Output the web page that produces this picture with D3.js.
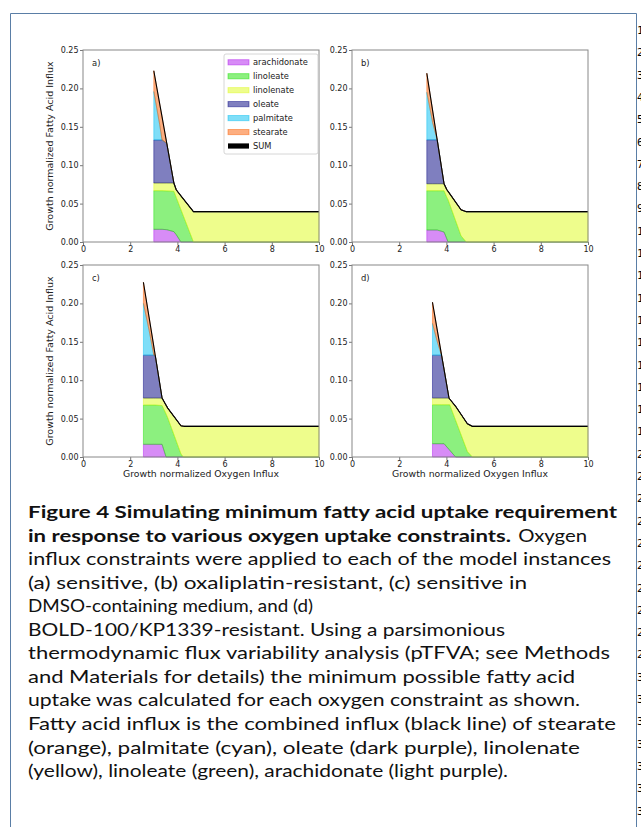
<!DOCTYPE html>
<html>
<head>
<meta charset="utf-8">
<script src="https://cdn.jsdelivr.net/npm/d3@7"></script>
<style>
  body { margin: 0; background: #fff; }
  svg { display: block; font-family: "DejaVu Sans", sans-serif; }
</style>
</head>
<body>
<script>
// stacking order, bottom to top
const acids = ["arachidonate", "linoleate", "linolenate", "oleate", "palmitate", "stearate"];
const acidColors = ["#af19ed", "#19e100", "#ddfb19", "#000080", "#00bef1", "#fb5d01"];
const legendNames = ["arachidonate", "linoleate", "linolenate", "oleate", "palmitate", "stearate", "SUM"];
const panelLabels = ["a)", "b)", "c)", "d)"];
const xTicks = [0, 2, 4, 6, 8, 10];
const yTicks = [0, 0.05, 0.1, 0.15, 0.2, 0.25];

// a) sensitive
const xA = [3.0, 3.25, 3.35, 3.55, 3.85, 3.95, 4.15, 4.68, 10];
const arachA = [0.0165, 0.0165, 0.0165, 0.016, 0.0135, 0.0096, 0, 0, 0];
const linoleA = [0.0503, 0.0503, 0.0503, 0.0505, 0.0525, 0.0484, 0.042, 0, 0];
const linolenA = [0.01, 0.01, 0.01, 0.0103, 0.0108, 0.01, 0.018, 0.0395, 0.0395];
const oleA = [0.056, 0.056, 0.056, 0.0516, 0, 0, 0, 0, 0];
const palmA = [0.0632, 0.02, 0, 0, 0, 0, 0, 0, 0];
const stearA = [0.027, 0.027, 0.03, 0, 0, 0, 0, 0, 0];

// b) oxaliplatin-resistant
const xB = [3.17, 3.42, 3.61, 3.9, 4.02, 4.07, 4.62, 4.84, 10];
const arachB = [0.0156, 0.0156, 0.0156, 0.013, 0.004, 0, 0, 0, 0];
const linoleB = [0.0511, 0.0511, 0.0511, 0.0537, 0.054, 0.055, 0.008, 0, 0];
const linolenB = [0.0091, 0.0091, 0.0091, 0.0091, 0.01, 0.011, 0.034, 0.0395, 0.0395];
const oleB = [0.0572, 0.0572, 0.0572, 0, 0, 0, 0, 0, 0];
const palmB = [0.062, 0.022, 0, 0, 0, 0, 0, 0, 0];
const stearB = [0.0247, 0.0155, 0, 0, 0, 0, 0, 0, 0];

// c) sensitive in DMSO
const xC = [2.56, 2.8, 3.0, 3.06, 3.35, 3.52, 3.59, 4.15, 4.25, 4.3, 10];
const arachC = [0.0165, 0.0165, 0.0165, 0.0165, 0.0165, 0, 0, 0, 0, 0, 0];
const linoleC = [0.0511, 0.0511, 0.0511, 0.0511, 0.0505, 0.056, 0.051, 0.004, 0, 0, 0];
const linolenC = [0.0091, 0.0091, 0.0091, 0.0091, 0.0097, 0.0115, 0.0127, 0.0367, 0.0401, 0.0399, 0.0399];
const oleC = [0.0559, 0.0559, 0.0559, 0.0558, 0, 0, 0, 0, 0, 0, 0];
const palmC = [0.0674, 0.0324, 0, 0, 0, 0, 0, 0, 0, 0, 0];
const stearC = [0.0275, 0.017, 0.0114, 0, 0, 0, 0, 0, 0, 0, 0];

// d) BOLD-100/KP1339-resistant
const xD = [3.41, 3.6, 3.79, 3.9, 4.11, 4.14, 4.39, 4.89, 5.1, 10];
const arachD = [0.0173, 0.0173, 0.0173, 0.0173, 0.0099, 0.0088, 0, 0, 0, 0];
const linoleD = [0.0507, 0.0507, 0.0507, 0.0507, 0.0581, 0.0592, 0.0477, 0.007, 0, 0];
const linolenD = [0.0087, 0.0087, 0.0087, 0.0087, 0.0087, 0.0075, 0.0183, 0.0363, 0.0399, 0.0399];
const oleD = [0.0559, 0.0559, 0.0559, 0.0374, 0, 0, 0, 0, 0, 0];
const palmD = [0.0414, 0.019, 0, 0, 0, 0, 0, 0, 0, 0];
const stearD = [0.0275, 0.016, 0.0011, 0, 0, 0, 0, 0, 0, 0];

const captionLines = [
  [["Figure 4  Simulating minimum fatty acid uptake requirement", true]],
  [["in response to various oxygen uptake constraints.", true], [" Oxygen", false]],
  [["influx constraints were applied to each of the model instances", false]],
  [["(a) sensitive, (b) oxaliplatin-resistant, (c) sensitive in", false]],
  [["DMSO-containing medium, and (d)", false]],
  [["BOLD-100/KP1339-resistant. Using a parsimonious", false]],
  [["thermodynamic flux variability analysis (pTFVA; see Methods", false]],
  [["and Materials for details) the minimum possible fatty acid", false]],
  [["uptake was calculated for each oxygen constraint as shown.", false]],
  [["Fatty acid influx is the combined influx (black line) of stearate", false]],
  [["(orange), palmitate (cyan), oleate (dark purple), linolenate", false]],
  [["(yellow), linoleate (green), arachidonate (light purple).", false]]
];
// measured right ends of each caption line in the reference
const captionEnds = [617, 587, 611, 527, 313, 505, 610, 575, 580, 616, 580, 508];

const panels = [
  { x: xA, series: [arachA, linoleA, linolenA, oleA, palmA, stearA] },
  { x: xB, series: [arachB, linoleB, linolenB, oleB, palmB, stearB] },
  { x: xC, series: [arachC, linoleC, linolenC, oleC, palmC, stearC] },
  { x: xD, series: [arachD, linoleD, linolenD, oleD, palmD, stearD] }
];

const W = 641, H = 827;
const svg = d3.select("body").append("svg").attr("width", W).attr("height", H);
svg.append("rect").attr("width", W).attr("height", H).attr("fill", "#fff");

// page frame
const frameColor = "#5a7ea6";
svg.append("path")
  .attr("d", `M10.5,${H} V13.5 H636.5 V${H}`)
  .attr("fill", "none").attr("stroke", frameColor).attr("stroke-width", 1);

// line numbers on the right margin (mostly cut off by the page edge)
for (let n = 1; n <= 36; n++) {
  svg.append("text")
    .attr("x", 637).attr("y", 34 + (n - 1) * 22.3)
    .style("font-family", "'DejaVu Sans Mono', monospace")
    .style("font-size", "11px").attr("fill", "#000")
    .text(n);
}

const pw = 236, ph = 192;
const lefts = [83, 352, 83, 352];
const tops = [50, 50, 265, 265];

const stack = d3.stack().keys(acids);

panels.forEach((p, i) => {
  const g = svg.append("g").attr("transform", `translate(${lefts[i]},${tops[i]})`);
  const x = d3.scaleLinear().domain([0, 10]).range([0, pw]);
  const y = d3.scaleLinear().domain([0, 0.25]).range([ph, 0]);

  const rows = p.x.map((xv, k) => {
    const r = { x: xv };
    acids.forEach((a, j) => (r[a] = p.series[j][k]));
    return r;
  });
  const layers = stack(rows);

  const area = d3.area()
    .x((d) => x(d.data.x))
    .y0((d) => y(d[0]))
    .y1((d) => y(d[1]));

  g.selectAll("path.layer")
    .data(layers)
    .enter()
    .append("path")
    .attr("class", "layer")
    .attr("d", area)
    .attr("fill", (d, j) => acidColors[j])
    .attr("fill-opacity", 0.5)
    .attr("stroke", (d, j) => acidColors[j])
    .attr("stroke-opacity", 0.5)
    .attr("stroke-width", 0.9);

  const sumLine = d3.line()
    .x((d) => x(d.x))
    .y((d) => y(d3.sum(acids, (a) => d[a])));
  g.append("path")
    .attr("d", sumLine(rows))
    .attr("fill", "none")
    .attr("stroke", "#000")
    .attr("stroke-width", 1.1);

  // axes
  const xAxis = d3.axisBottom(x).tickValues(xTicks).tickSize(3).tickPadding(1.5);
  const yAxis = d3.axisLeft(y).tickValues(yTicks).tickSize(3).tickPadding(1.5)
    .tickFormat(d3.format(".2f"));
  const gx = g.append("g").attr("transform", `translate(0,${ph})`).call(xAxis);
  const gy = g.append("g").call(yAxis);
  [gx, gy].forEach((ax) => {
    ax.select(".domain").remove();
    ax.selectAll("line").attr("stroke", "#777");
    ax.selectAll("text").attr("fill", "#222").style("font-size", "8px")
      .style("font-family", "'DejaVu Sans', sans-serif");
  });

  g.append("rect")
    .attr("width", pw).attr("height", ph)
    .attr("fill", "none").attr("stroke", "#888").attr("stroke-width", 1);

  g.append("text")
    .attr("x", 9).attr("y", 16)
    .style("font-size", "8.4px").attr("fill", "#222")
    .text(panelLabels[i]);

  if (i % 2 === 0) {
    g.append("text")
      .attr("transform", `translate(-30,${ph / 2}) rotate(-90)`)
      .attr("text-anchor", "middle")
      .style("font-size", "9.5px").attr("fill", "#222")
      .text("Growth normalized Fatty Acid Influx");
  }
  if (i >= 2) {
    g.append("text")
      .attr("x", pw / 2).attr("y", ph + 20)
      .attr("text-anchor", "middle")
      .style("font-size", "9.3px").attr("fill", "#222")
      .text("Growth normalized Oxygen Influx");
  }

  if (i === 0) {
    const lg = g.append("g").attr("transform", `translate(${141},${4})`);
    lg.append("rect")
      .attr("width", 94).attr("height", 100).attr("rx", 2)
      .attr("fill", "#fff").attr("stroke", "#ccc").attr("stroke-width", 0.8);
    legendNames.forEach((name, j) => {
      const cy = 8.3 + j * 13.95;
      if (j < acids.length) {
        lg.append("rect")
          .attr("x", 4).attr("y", cy - 2.6).attr("width", 21).attr("height", 5.2)
          .attr("fill", acidColors[j]).attr("fill-opacity", 0.5)
          .attr("stroke", acidColors[j]).attr("stroke-opacity", 0.5).attr("stroke-width", 0.9);
      } else {
        lg.append("rect")
          .attr("x", 4).attr("y", cy - 2.6).attr("width", 21).attr("height", 5.2)
          .attr("fill", "#000");
      }
      lg.append("text")
        .attr("x", 29).attr("y", cy + 3)
        .style("font-size", "8.3px").attr("fill", "#222")
        .text(name);
    });
  }
});

// caption
const cap = svg.append("g").style("font-family", "Lato, 'Open Sans', sans-serif")
  .style("font-size", "17px").attr("fill", "#111");
captionLines.forEach((parts, li) => {
  const t = cap.append("text").attr("x", 28).attr("y", 518 + li * 23.55);
  if (parts.length === 1) {
    t.text(parts[0][0])
      .style("font-weight", parts[0][1] ? "bold" : "normal")
      .attr("textLength", captionEnds[li] - 28)
      .attr("lengthAdjust", "spacingAndGlyphs");
  } else {
    t.append("tspan").text(parts[0][0]).style("font-weight", "bold")
      .attr("textLength", 511 - 28).attr("lengthAdjust", "spacingAndGlyphs");
    t.append("tspan").attr("x", 513).text(parts[1][0])
      .attr("textLength", captionEnds[li] - 513).attr("lengthAdjust", "spacingAndGlyphs");
  }
});
</script>
</body>
</html>
